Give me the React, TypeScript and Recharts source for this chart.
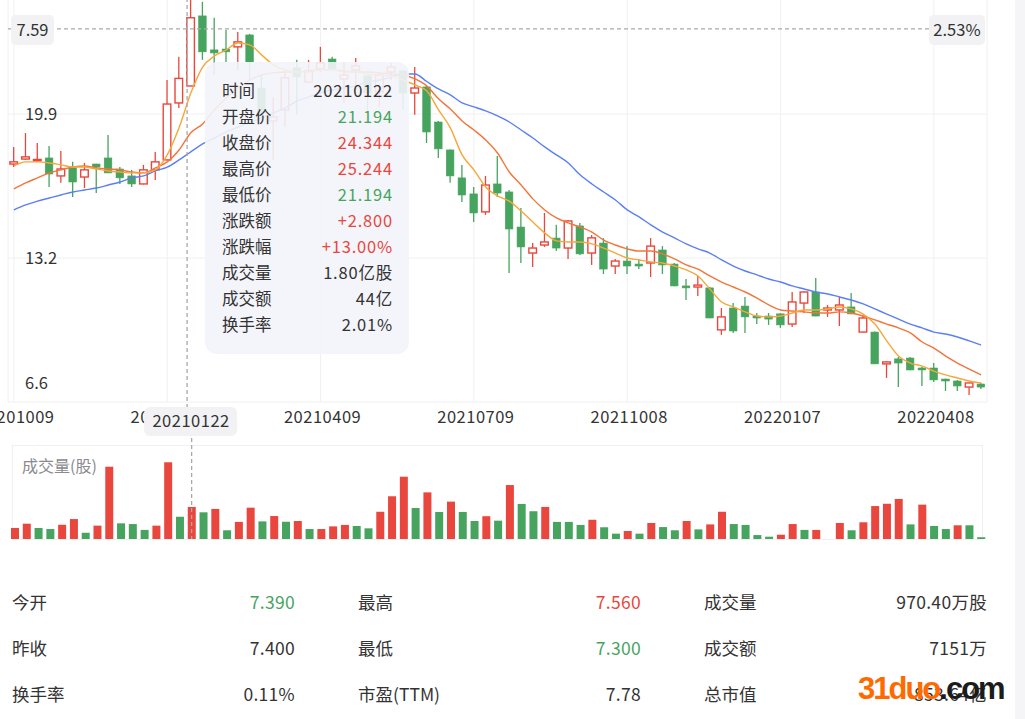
import React from 'react';
import {
  ComposedChart,
  BarChart,
  Bar,
  Line,
  XAxis,
  YAxis,
  CartesianGrid,
  ReferenceLine,
  Cell,
} from 'recharts';

// weekly k-line, 20201009 .. 20220506
const dates = [
  '20201009', '20201016', '20201023', '20201030', '20201106', '20201113', '20201120', '20201127', '20201204', '20201211',
  '20201218', '20201225', '20201231', '20210108', '20210115', '20210122', '20210129', '20210205', '20210210', '20210219',
  '20210226', '20210305', '20210312', '20210319', '20210326', '20210402', '20210409', '20210416', '20210423', '20210430',
  '20210507', '20210514', '20210521', '20210528', '20210604', '20210611', '20210618', '20210625', '20210702', '20210709',
  '20210716', '20210723', '20210730', '20210806', '20210813', '20210820', '20210827', '20210903', '20210910', '20210917',
  '20210924', '20210930', '20211008', '20211015', '20211022', '20211029', '20211105', '20211112', '20211119', '20211126',
  '20211203', '20211210', '20211217', '20211224', '20211231', '20220107', '20220114', '20220121', '20220128', '20220204',
  '20220211', '20220218', '20220225', '20220304', '20220311', '20220318', '20220325', '20220401', '20220408', '20220415',
  '20220422', '20220429', '20220506',
];

const opens = [
  17.59, 17.82, 17.76, 17.87, 17.04, 17.41, 16.99, 17.59, 17.87, 17.36,
  17.04, 16.67, 17.32, 17.78, 20.41, 21.194, 24.43, 22.86, 22.9, 23.0,
  23.55, 21.1, 19.58, 20.09, 22.03, 21.38, 21.98, 22.44, 21.52, 21.93,
  21.66, 20.92, 21.84, 21.89, 20.87, 21.15, 19.53, 18.24, 16.95, 16.21,
  15.38, 16.67, 16.3, 14.68, 13.48, 13.85, 14.17, 13.71, 14.73, 13.48,
  13.94, 12.88, 13.11, 12.97, 13.02, 13.62, 12.97, 11.96, 11.91, 11.87,
  9.93, 10.94, 11.03, 10.57, 10.57, 10.67, 10.2, 11.17, 11.68, 10.85,
  10.85, 10.99, 9.83, 9.83, 8.36, 8.59, 8.63, 8.17, 8.17, 7.66,
  7.57, 7.29, 7.43,
];
const closes = [
  17.69, 17.92, 17.8, 17.13, 17.36, 16.76, 17.32, 17.45, 17.18, 16.95,
  16.67, 17.32, 17.69, 20.36, 21.544, 24.344, 22.77, 22.72, 22.77, 23.23,
  22.3, 19.95, 19.76, 21.57, 21.61, 21.89, 22.26, 21.98, 21.7, 22.12,
  20.87, 21.7, 22.07, 20.87, 21.1, 19.07, 18.29, 17.04, 16.16, 15.33,
  16.62, 16.25, 14.59, 13.76, 13.71, 13.99, 13.71, 14.96, 13.44, 14.18,
  12.74, 13.11, 12.88, 12.88, 13.8, 12.93, 11.96, 11.87, 12.0, 10.48,
  10.53, 9.88, 10.53, 10.48, 10.43, 10.16, 11.22, 11.68, 10.57, 10.94,
  11.08, 10.67, 10.48, 8.36, 8.45, 8.4, 8.08, 8.08, 7.62, 7.57,
  7.34, 7.48, 7.29,
];
const highs = [
  18.38, 19.02, 18.56, 18.42, 18.19, 17.69, 17.64, 17.6, 18.93, 17.45,
  17.32, 17.55, 18.15, 21.47, 22.54, 25.244, 25.08, 24.34, 23.78, 23.69,
  23.6, 21.7, 20.69, 21.93, 22.4, 22.4, 23.0, 22.54, 22.3, 22.49,
  21.7, 21.8, 22.26, 21.93, 22.07, 21.2, 19.58, 18.26, 17.55, 16.53,
  17.04, 17.96, 16.39, 15.56, 13.94, 15.33, 14.78, 15.01, 14.87, 14.31,
  14.17, 13.2, 13.8, 13.2, 14.17, 13.8, 13.02, 12.28, 12.42, 11.91,
  10.94, 11.17, 11.45, 10.71, 10.71, 10.69, 11.68, 11.7, 12.33, 11.08,
  11.45, 11.63, 10.62, 9.85, 8.49, 8.68, 8.68, 8.22, 8.4, 7.68,
  7.62, 7.49, 7.48,
];
const lows = [
  17.45, 17.78, 17.69, 16.53, 16.72, 16.07, 16.48, 16.25, 17.17, 16.67,
  16.53, 16.65, 16.85, 17.76, 20.18, 21.194, 22.4, 21.7, 22.3, 21.93,
  21.47, 19.72, 17.78, 19.3, 19.86, 21.33, 21.84, 21.93, 20.41, 21.01,
  20.09, 20.23, 21.47, 20.09, 19.86, 18.56, 17.87, 16.72, 15.84, 14.91,
  15.24, 16.07, 12.56, 13.02, 12.83, 13.76, 13.57, 13.2, 13.39, 12.93,
  12.51, 12.51, 12.51, 12.74, 12.37, 12.51, 11.95, 11.31, 11.5, 10.47,
  9.7, 9.79, 9.79, 10.2, 10.16, 10.02, 10.06, 10.71, 10.56, 10.53,
  10.11, 10.65, 9.81, 8.35, 7.71, 7.29, 8.07, 7.34, 7.52, 7.11,
  7.11, 6.92, 7.2,
];

const ma5 = [
  17.5, 17.69, 17.69, 17.64, 17.55, 17.45, 17.45, 17.36, 17.27, 17.22,
  17.18, 17.18, 17.32, 18.01, 19.26, 20.87, 22.07, 22.58, 22.86, 23.18,
  23.09, 22.63, 22.17, 21.94, 21.84, 21.84, 21.94, 21.94, 21.84, 21.84,
  21.75, 21.7, 21.66, 21.47, 21.24, 20.97, 20.09, 19.26, 18.01, 17.32,
  16.53, 16.12, 15.88, 15.42, 14.91, 14.41, 14.04, 13.99, 13.99, 13.9,
  13.71, 13.48, 13.25, 13.16, 13.07, 13.02, 12.88, 12.7, 12.42, 11.82,
  11.22, 10.99, 10.76, 10.57, 10.53, 10.57, 10.71, 10.85, 10.85, 10.9,
  10.99, 10.9, 10.66, 10.2, 9.42, 8.72, 8.4, 8.26, 8.03, 7.85,
  7.71, 7.57, 7.48,
];
const ma10 = [
  16.44, 16.72, 16.95, 17.18, 17.32, 17.45, 17.5, 17.41, 17.36, 17.32,
  17.22, 17.18, 17.41, 17.69, 18.24, 19.03, 19.44, 20.09, 20.64, 21.1,
  21.47, 21.7, 21.8, 21.84, 21.84, 21.89, 21.94, 21.94, 21.89, 21.84,
  21.84, 21.8, 21.75, 21.7, 21.52, 21.2, 20.6, 20.13, 19.58, 19.16,
  18.7, 18.1, 17.22, 16.62, 15.98, 15.47, 15.1, 14.87, 14.68, 14.45,
  14.08, 13.85, 13.67, 13.57, 13.57, 13.44, 13.21, 12.93, 12.74, 12.42,
  12.14, 11.91, 11.68, 11.4, 11.08, 10.85, 10.8, 10.76, 10.71, 10.71,
  10.76, 10.71, 10.57, 10.39, 10.2, 10.02, 9.79, 9.37, 9.09, 8.72,
  8.4, 8.12, 7.85,
];
const ma20 = [
  15.47, 15.7, 15.88, 16.02, 16.16, 16.3, 16.39, 16.48, 16.62, 16.76,
  16.95, 17.04, 17.27, 17.45, 17.78, 18.15, 18.52, 18.79, 19.07, 19.3,
  19.49, 19.72, 19.95, 20.18, 20.5, 20.69, 20.87, 21.01, 21.1, 21.2,
  21.38, 21.47, 21.61, 21.75, 21.75, 21.4, 21.06, 20.78, 20.41, 20.23,
  20.04, 19.81, 19.53, 19.16, 18.79, 18.38, 18.01, 17.64, 17.09, 16.67,
  16.3, 15.93, 15.47, 15.15, 14.78, 14.45, 14.18, 13.9, 13.67, 13.48,
  13.16, 12.88, 12.65, 12.47, 12.28, 12.14, 11.96, 11.82, 11.68, 11.59,
  11.45, 11.31, 11.13, 10.9, 10.66, 10.43, 10.2, 10.02, 9.83, 9.74,
  9.6, 9.42, 9.23,
];

// 成交量, 亿股
const volumes = [
  0.62, 0.86, 0.62, 0.56, 0.8, 1.12, 0.35, 0.75, 4.06, 0.88,
  0.84, 0.51, 0.75, 4.31, 1.25, 1.8, 1.5, 1.69, 0.49, 0.96,
  1.76, 0.99, 1.29, 0.97, 1.01, 0.56, 0.56, 0.71, 0.79, 0.73,
  0.6, 1.53, 2.4, 3.5, 1.74, 2.62, 1.52, 2.1, 1.52, 1.01,
  1.28, 1.03, 3.03, 1.97, 1.56, 1.8, 0.96, 0.96, 0.79, 1.08,
  0.66, 0.3, 0.45, 0.3, 0.9, 0.67, 0.49, 1.01, 0.54, 0.82,
  1.53, 0.84, 0.79, 0.22, 0.13, 0.24, 0.84, 0.51, 0.51, 0,
  0.9, 0.49, 0.94, 1.85, 1.98, 2.25, 0.82, 1.93, 0.73, 0.56,
  0.77, 0.77, 0.1,
];
// 1 = rise (red), 0 = fall (green)
const volumeUp = [
  1, 1, 0, 0, 1, 1, 0, 1, 1, 0,
  0, 0, 1, 1, 0, 1, 0, 1, 0, 1,
  1, 0, 1, 0, 1, 0, 1, 1, 1, 0,
  0, 1, 1, 1, 0, 1, 0, 1, 0, 0,
  1, 0, 1, 0, 0, 1, 0, 0, 0, 1,
  0, 0, 1, 0, 1, 0, 0, 1, 0, 1,
  1, 0, 0, 0, 0, 1, 1, 0, 1, 1,
  1, 0, 1, 1, 1, 1, 0, 1, 0, 0,
  1, 0, 0,
];

const quarterTicks = ['20201009', '20210108', '20210409', '20210709', '20211008', '20220107', '20220408'];
const priceTicks = [6.6, 13.25, 19.9, 26.55];
const priceTickLabels = ['6.6', '13.2', '19.9', '26.6'];

const crossDate = '20210122';
const crossPrice = 23.83;
const crossLeftLabel = '7.59';
const crossRightLabel = '2.53%';

const RED = '#e9473d';
const GREEN = '#47a45f';
const TEXT = '#333333';
const GRID = '#f0f0f2';
const CROSS = '#a9a9ad';

const tooltipRows: [string, string, string][] = [
  ['时间', '20210122', 'n'],
  ['开盘价', '21.194', 'g'],
  ['收盘价', '24.344', 'r'],
  ['最高价', '25.244', 'r'],
  ['最低价', '21.194', 'g'],
  ['涨跌额', '+2.800', 'r'],
  ['涨跌幅', '+13.00%', 'r'],
  ['成交量', '1.80亿股', 'n'],
  ['成交额', '44亿', 'n'],
  ['换手率', '2.01%', 'n'],
];

const statRows: [string, string, string][][] = [
  [['今开', '7.390', 'g'], ['最高', '7.560', 'r'], ['成交量', '970.40万股', 'n']],
  [['昨收', '7.400', 'n'], ['最低', '7.300', 'g'], ['成交额', '7151万', 'n']],
  [['换手率', '0.11%', 'n'], ['市盈(TTM)', '7.78', 'n'], ['总市值', '853.64亿', 'n']],
];

const tone = (t: string) => (t === 'g' ? GREEN : t === 'r' ? RED : TEXT);

const data = dates.map((date, i) => ({
  date,
  open: opens[i],
  close: closes[i],
  high: highs[i],
  low: lows[i],
  ma5: ma5[i],
  ma10: ma10[i],
  ma20: ma20[i],
  vol: volumes[i],
  volUp: volumeUp[i],
}));

const Candle = (props: any) => {
  const d = props.payload ?? data[props.index];
  let { x, y, width, height } = props;
  if (height < 0) {
    y += height;
    height = -height;
  }
  const { open, close, high, low } = d;
  const up = close >= open;
  const color = up ? RED : GREEN;
  const ratio = high === low ? 0 : height / (high - low);
  const py = (v: number) => y + (high - v) * ratio;
  const cx = x + width / 2;
  const top = py(Math.max(open, close));
  const bh = Math.max(py(Math.min(open, close)) - top, 1.4);
  const bw = 7.6;
  return (
    <g>
      <line x1={cx} x2={cx} y1={y} y2={y + height} stroke={color} strokeWidth={1.3} />
      <rect
        x={cx - bw / 2}
        y={top}
        width={bw}
        height={bh}
        fill={up ? '#ffffff' : color}
        stroke={color}
        strokeWidth={up ? 1.4 : 0.6}
      />
    </g>
  );
};

const PriceTick = (props: any) => {
  const { y, payload } = props;
  const idx = priceTicks.indexOf(payload.value);
  if (idx < 0) return <g />;
  const lift = idx === 0 ? -19 : 0;
  return (
    <text x={25} y={y + lift} dy="0.35em" fill={TEXT} fontSize={16.5}>
      {priceTickLabels[idx]}
    </text>
  );
};

const DateTick = (props: any) => {
  const { x, y, payload } = props;
  return (
    <text x={x + 2} y={y} dy="0.8em" textAnchor="middle" fill={TEXT} fontSize={16.5} letterSpacing={0.5}>
      {payload.value}
    </text>
  );
};

const PriceVCross = (p: any) => {
  const top = Math.min(p.y1, p.y2);
  const bottom = Math.max(p.y1, p.y2);
  return (
    <g>
      <line x1={p.x1} x2={p.x1} y1={top} y2={bottom + 36} stroke={CROSS} strokeWidth={1.3} strokeDasharray="4 3" />
      <rect x={p.x1 - 43} y={bottom + 5} width={93} height={29} rx={6} fill="#f2f2f4" />
      <text x={p.x1 + 4} y={bottom + 19.5} dy="0.35em" textAnchor="middle" fontSize={16.5} fill={TEXT} letterSpacing={0.5}>
        {crossDate}
      </text>
    </g>
  );
};

const PriceHCross = (p: any) => {
  const left = Math.min(p.x1, p.x2);
  const right = Math.max(p.x1, p.x2);
  const y = p.y1;
  return (
    <g>
      <line x1={left} x2={right} y1={y} y2={y} stroke={CROSS} strokeWidth={1.3} strokeDasharray="4 3" />
      <rect x={left + 3} y={y - 14} width={43} height={30} rx={5} fill="#f2f2f4" />
      <text x={left + 24.5} y={y + 1} dy="0.35em" textAnchor="middle" fontSize={16.5} fill={TEXT}>
        {crossLeftLabel}
      </text>
      <rect x={right - 58} y={y - 14} width={56} height={30} rx={5} fill="#f2f2f4" />
      <text x={right - 30} y={y + 1} dy="0.35em" textAnchor="middle" fontSize={16.5} fill={TEXT}>
        {crossRightLabel}
      </text>
    </g>
  );
};

const VolVCross = (p: any) => {
  const top = Math.min(p.y1, p.y2);
  const bottom = Math.max(p.y1, p.y2);
  return <line x1={p.x1} x2={p.x1} y1={top - 7} y2={bottom} stroke={CROSS} strokeWidth={1.3} strokeDasharray="4 3" />;
};

const FONT = '"Noto Sans CJK SC", "Noto Sans", sans-serif';
const PRICE_MARGIN = { top: 0, right: 13, bottom: 0, left: 8 };

export default function App() {
  return (
    <div
      style={{
        position: 'absolute',
        left: 0,
        top: 0,
        width: 1025,
        height: 719,
        overflow: 'hidden',
        background: '#fff',
        fontFamily: FONT,
        color: TEXT,
      }}
    >
      {/* price panel, plot top sits above the viewport */}
      <div style={{ position: 'absolute', left: 0, top: -30 }}>
        <ComposedChart width={1000} height={468} data={data} margin={PRICE_MARGIN}>
          <CartesianGrid stroke={GRID} />
          <XAxis
            dataKey="date"
            ticks={quarterTicks}
            interval={0}
            height={36}
            axisLine={false}
            tickLine={false}
            tick={<DateTick />}
          />
          <YAxis
            domain={[6.6, 26.55]}
            ticks={priceTicks}
            interval={0}
            width={1}
            mirror
            axisLine={false}
            tickLine={false}
            tick={<PriceTick />}
            allowDataOverflow
          />
          <Bar dataKey={(d: any) => [d.low, d.high]} shape={<Candle />} isAnimationActive={false} />
          <Line dataKey="ma20" stroke="#5b7ff5" strokeWidth={1.4} dot={false} type="monotone" isAnimationActive={false} />
          <Line dataKey="ma10" stroke="#f2753b" strokeWidth={1.4} dot={false} type="monotone" isAnimationActive={false} />
          <Line dataKey="ma5" stroke="#f5a739" strokeWidth={1.4} dot={false} type="monotone" isAnimationActive={false} />
        </ComposedChart>
      </div>

      {/* crosshair layer on the same scales, above the axis labels */}
      <div style={{ position: 'absolute', left: 0, top: -30 }}>
        <ComposedChart width={1000} height={468} data={data} margin={PRICE_MARGIN}>
          <XAxis dataKey="date" height={36} axisLine={false} tickLine={false} tick={false} />
          <YAxis domain={[6.6, 26.55]} width={1} mirror axisLine={false} tickLine={false} tick={false} allowDataOverflow />
          <ReferenceLine y={crossPrice} shape={PriceHCross} />
          <ReferenceLine x={crossDate} shape={PriceVCross} />
        </ComposedChart>
      </div>

      {/* volume panel */}
      <div
        style={{
          position: 'absolute',
          left: 12,
          top: 445,
          width: 971,
          height: 95,
          border: `1px solid ${GRID}`,
          boxSizing: 'border-box',
        }}
      />
      <div style={{ position: 'absolute', left: 0, top: 438 }}>
        <BarChart width={1000} height={101} data={data} margin={{ top: 7, right: 13, bottom: 0, left: 9 }}>
          <XAxis dataKey="date" hide />
          <YAxis domain={[0, 5.28]} hide />
          <Bar dataKey="vol" barSize={8} isAnimationActive={false}>
            {data.map((d, i) => (
              <Cell key={i} fill={d.volUp ? RED : GREEN} />
            ))}
          </Bar>
          <ReferenceLine x={crossDate} shape={VolVCross} />
        </BarChart>
      </div>
      <div style={{ position: 'absolute', left: 22, top: 453, fontSize: 16, color: '#8a8a8e' }}>成交量(股)</div>

      {/* tooltip */}
      <div
        style={{
          position: 'absolute',
          left: 205,
          top: 62,
          width: 204,
          height: 292,
          borderRadius: 12,
          background: 'rgba(243,244,249,0.9)',
          boxSizing: 'border-box',
          padding: '15px 16px 0 17px',
        }}
      >
        {tooltipRows.map(([k, v, t]) => (
          <div
            key={k}
            style={{ display: 'flex', justifyContent: 'space-between', height: 26, lineHeight: '26px', fontSize: 16.5 }}
          >
            <span style={{ color: TEXT }}>{k}</span>
            <span style={{ color: tone(t), letterSpacing: 0.8 }}>{v}</span>
          </div>
        ))}
      </div>

      {/* quote table */}
      {statRows.map((row, r) =>
        row.map(([k, v, t], c) => (
          <React.Fragment key={`${r}-${c}`}>
            <div style={{ position: 'absolute', left: 12 + c * 346, top: 589 + r * 46, fontSize: 17.5, lineHeight: '26px' }}>
              {k}
            </div>
            <div
              style={{
                position: 'absolute',
                right: 1025 - (295 + c * 346),
                top: 589 + r * 46,
                fontSize: 17.5,
                lineHeight: '26px',
                letterSpacing: 0.3,
                color: tone(t),
              }}
            >
              {v}
            </div>
          </React.Fragment>
        ))
      )}

      {/* watermark */}
      <div
        style={{
          position: 'absolute',
          left: 858,
          top: 670,
          fontFamily: '"Liberation Sans", Arial, sans-serif',
          fontWeight: 700,
          fontSize: 31,
          letterSpacing: -2,
          lineHeight: '38px',
        }}
      >
        <span style={{ color: '#ff6a00' }}>31duo</span>
        <span style={{ color: '#1b1b1b' }}>.com</span>
      </div>

      <div style={{ position: 'absolute', left: 1015, top: 0, width: 10, height: 719, background: '#f5f5f7' }} />
    </div>
  );
}
